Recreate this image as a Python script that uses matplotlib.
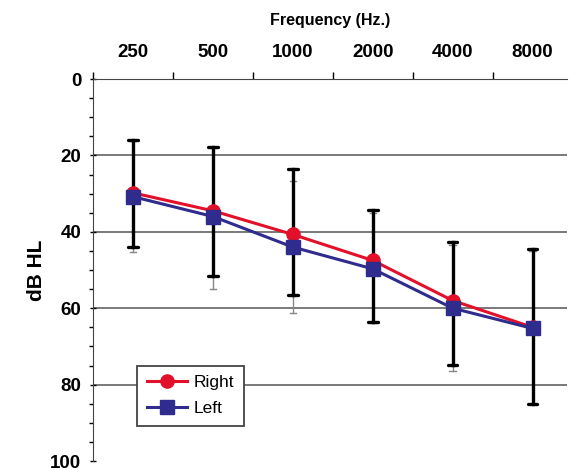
import matplotlib.pyplot as plt
import numpy as np

plt.rcParams["font.family"] = ["Liberation Sans", "DejaVu Sans"]

freqs = ["250", "500", "1000", "2000", "4000", "8000"]
right_db = [29.8, 34.5, 40.7, 47.5, 58.0, 65.0]
left_db = [30.8, 36.0, 44.0, 49.7, 60.0, 65.3]

# black (thick) range bars
bar_lo = [16.0, 17.7, 23.6, 34.3, 42.8, 44.6]
bar_hi = [44.1, 51.5, 56.5, 63.5, 74.9, 85.2]
# thin grey range bars behind them
thin_lo = [16.3, 18.0, 26.6, 35.0, 43.5, 45.0]
thin_hi = [45.2, 55.0, 61.3, 63.8, 76.4, 85.2]

x = np.arange(len(freqs))

fig = plt.figure(figsize=(5.7, 4.7), dpi=100)
ax = fig.add_axes([93 / 570, 1 - 461 / 470, 474 / 570, 382 / 470])

for yv in [20, 40, 60, 80]:
    ax.axhline(yv, color="#555555", lw=1.1, zorder=1)

# thin bars
for xi, lo, hi in zip(x, thin_lo, thin_hi):
    ax.plot([xi, xi], [lo, hi], color="#888888", lw=1.0, zorder=2)
    ax.plot([xi - 0.04, xi + 0.04], [hi, hi], color="#888888", lw=1.0, zorder=2)
    ax.plot([xi - 0.04, xi + 0.04], [lo, lo], color="#888888", lw=1.0, zorder=2)

# thick bars
for xi, lo, hi in zip(x, bar_lo, bar_hi):
    ax.plot([xi, xi], [lo, hi], color="black", lw=2.4, zorder=3)
    ax.plot([xi - 0.06, xi + 0.06], [hi, hi], color="black", lw=2.4, zorder=3,
            solid_capstyle="round")
    ax.plot([xi - 0.06, xi + 0.06], [lo, lo], color="black", lw=2.4, zorder=3,
            solid_capstyle="round")

ax.plot(x, right_db, color="#e3102a", lw=2.2, marker="o", ms=9.5,
        label="Right", zorder=4)
ax.plot(x, left_db, color="#2f2c8e", lw=2.2, marker="s", ms=9.5,
        label="Left", zorder=5)

ax.set_xlim(-0.5, 5.43)
ax.set_ylim(100, 0)

ax.xaxis.tick_top()
ax.xaxis.set_label_position("top")
ax.set_xticks(x)
ax.set_xticklabels(freqs, fontsize=13.5, fontweight="bold")
ax.set_xticks(np.arange(-0.5, 5.5, 1), minor=True)
ax.tick_params(axis="x", which="major", length=0, pad=13)
ax.tick_params(axis="x", which="minor", length=5, width=1, direction="out")
ax.set_xlabel("Frequency (Hz.)", fontsize=11.5, fontweight="bold", labelpad=14)

ax.set_yticks([0, 20, 40, 60, 80, 100])
ax.set_yticklabels(["0", "20", "40", "60", "80", "100"], fontsize=13.5,
                   fontweight="bold")
ax.set_yticks(np.arange(0, 101, 5), minor=True)
ax.tick_params(axis="y", which="major", length=5, width=1, direction="inout", pad=6)
ax.tick_params(axis="y", which="minor", length=3, width=1, direction="out")
ax.set_ylabel("dB HL", fontsize=15, fontweight="bold", labelpad=3)

ax.spines["right"].set_visible(False)
ax.spines["bottom"].set_visible(False)
ax.spines["left"].set_color("#444444")
ax.spines["top"].set_color("#444444")

leg = ax.legend(loc="lower left", bbox_to_anchor=(0.075, 0.07), fontsize=12.5,
                fancybox=False, framealpha=1, edgecolor="#444444",
                handlelength=2.3, borderpad=0.55, labelspacing=0.6,
                handletextpad=0.4)
leg.get_frame().set_linewidth(1.3)

fig.savefig("out.png", dpi=100)
